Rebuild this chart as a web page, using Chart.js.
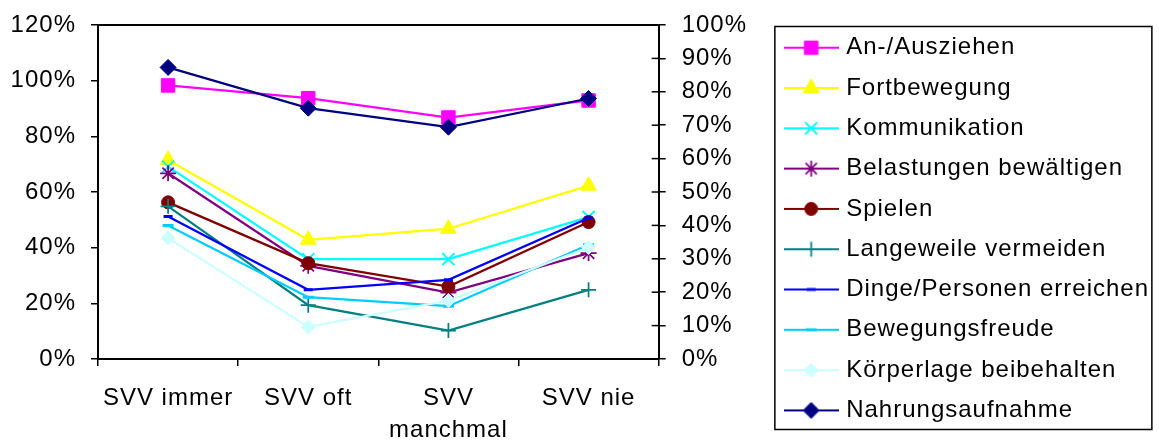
<!DOCTYPE html>
<html>
<head>
<meta charset="utf-8">
<script src="https://cdn.jsdelivr.net/npm/chart.js@4.4.1/dist/chart.umd.min.js"></script>
<style>
  html, body { margin: 0; padding: 0; background: #fff; }
  #chart { display: block; }
</style>
</head>
<body>
<canvas id="chart" width="1159" height="441"></canvas>
<script>
var categories = ['SVV immer', 'SVV oft', ['SVV', 'manchmal'], 'SVV nie']
var leftTicks = [0, 20, 40, 60, 80, 100, 120]
var rightTicks = [0, 10, 20, 30, 40, 50, 60, 70, 80, 90, 100]

// values in %, read against the right axis
var anAusziehen = [81.9, 78.1, 72.3, 77.4]
var fortbewegung = [59.6, 35.7, 39.0, 51.9]
var kommunikation = [57.6, 29.9, 29.9, 42.5]
var belastungen = [55.6, 27.9, 19.9, 31.7]
var spielen = [46.9, 28.7, 21.7, 41.0]
var langeweile = [45.7, 16.1, 8.5, 20.7]
var dingePersonen = [42.7, 20.7, 23.7, 42.2]
var bewegungsfreude = [40.0, 18.5, 15.8, 34.2]
var koerperlage = [36.2, 9.6, 17.5, 33.4]
var nahrungsaufnahme = [87.3, 75.1, 69.4, 78.0]

var seriesNames = ['An-/Ausziehen', 'Fortbewegung', 'Kommunikation', 'Belastungen bewältigen', 'Spielen',
    'Langeweile vermeiden', 'Dinge/Personen erreichen', 'Bewegungsfreude', 'Körperlage beibehalten', 'Nahrungsaufnahme']
var seriesValues = [anAusziehen, fortbewegung, kommunikation, belastungen, spielen,
    langeweile, dingePersonen, bewegungsfreude, koerperlage, nahrungsaufnahme]

var colors = ['#ff00ff', '#ffff00', '#00ffff', '#800080', '#800000', '#008080', '#0000ff', '#00ccff', '#ccffff', '#000080']
var markers = [
    { style: 'rect', radius: 9.5, border: 1 },
    { style: 'triangle', radius: 9, border: 1 },
    { style: 'crossRot', radius: 8.5, border: 2 },
    { style: 'star', radius: 8, border: 1.75 },
    { style: 'circle', radius: 6.5, border: 1 },
    { style: 'cross', radius: 7.5, border: 1.75 },
    { style: 'line', radius: 4.5, border: 3 },
    { style: 'line', radius: 5.5, border: 3 },
    { style: 'rectRot', radius: 7, border: 1 },
    { style: 'rectRot', radius: 8, border: 1 }
]

var fontFamily = "'Liberation Sans', Arial, sans-serif"
Chart.defaults.font.family = fontFamily
Chart.defaults.font.size = 24
Chart.defaults.color = '#000'

// legend symbol: a short line with the marker in the middle
function makeIcon(color, m) {
    var c = document.createElement('canvas')
    c.width = 55
    c.height = 22
    var ctx = c.getContext('2d')
    ctx.strokeStyle = color
    ctx.fillStyle = color
    ctx.lineWidth = 2
    ctx.beginPath()
    ctx.moveTo(0, 11)
    ctx.lineTo(55, 11)
    ctx.stroke()
    ctx.lineWidth = m.border
    Chart.helpers.drawPoint(ctx, { pointStyle: m.style, radius: m.radius, rotation: 0, borderWidth: m.border }, 27.5, 11)
    return c
}
var icons = colors.map(function (c, i) { return makeIcon(c, markers[i]) })

// the reference text runs a bit wide
var spacing = {
    id: 'spacing',
    beforeUpdate: function (chart) { chart.ctx.letterSpacing = '1px' },
    beforeDraw: function (chart) { chart.ctx.letterSpacing = '1px' }
}

// top edge of the plot, inner ticks of the right axis, legend frame
var frame = {
    id: 'frame',
    afterDraw: function (chart) {
        var ctx = chart.ctx
        var a = chart.chartArea
        var y2 = chart.scales.y2
        var lg = chart.legend
        ctx.save()
        ctx.strokeStyle = '#000'
        ctx.lineWidth = 2
        ctx.beginPath()
        ctx.moveTo(a.left - 1, a.top)
        ctx.lineTo(a.right + 1, a.top)
        ctx.stroke()
        ctx.lineWidth = 1.5
        y2.ticks.forEach(function (t) {
            var y = y2.getPixelForValue(t.value)
            ctx.beginPath()
            ctx.moveTo(a.right - 7, y)
            ctx.lineTo(a.right, y)
            ctx.stroke()
        })
        ctx.strokeRect(lg.left + 3, lg.top + 7.1, 377, 403)
        ctx.restore()
    }
}

var pct = function (v) { return v + '%' }

new Chart(document.getElementById('chart').getContext('2d'), {
    type: 'line',
    data: {
        labels: categories,
        datasets: seriesNames.map(function (name, i) {
            return {
                label: name,
                data: seriesValues[i],
                yAxisID: 'y2',
                borderColor: colors[i],
                backgroundColor: colors[i],
                borderWidth: 2.25,
                pointStyle: markers[i].style,
                pointRadius: markers[i].radius,
                pointHoverRadius: markers[i].radius,
                pointBorderWidth: markers[i].border,
                tension: 0,
                order: seriesNames.length - i
            }
        })
    },
    options: {
        responsive: false,
        animation: false,
        layout: { padding: { top: 19.4, left: 0, right: 0, bottom: 0 } },
        plugins: {
            tooltip: { enabled: false },
            legend: {
                position: 'right',
                align: 'start',
                maxWidth: 388.8,
                labels: {
                    usePointStyle: true,
                    pointStyleWidth: 46,
                    padding: 16.3,
                    font: { size: 24 },
                    color: '#000',
                    generateLabels: function (chart) {
                        var items = Chart.defaults.plugins.legend.labels.generateLabels(chart)
                        items.forEach(function (item) { item.pointStyle = icons[item.datasetIndex] })
                        return items
                    },
                    sort: function (a, b) { return a.datasetIndex - b.datasetIndex }
                }
            }
        },
        scales: {
            x: {
                offset: true,
                grid: { offset: true, drawOnChartArea: false, tickLength: 7, color: '#000', lineWidth: 1.5 },
                border: { color: '#000', width: 2 },
                ticks: { maxRotation: 0, autoSkip: false, padding: 16, font: { size: 24, lineHeight: 1.35 } },
                afterFit: function (s) { s.height = 82; s.paddingLeft = 0; s.paddingRight = 0 }
            },
            y: {
                position: 'left',
                min: leftTicks[0],
                max: leftTicks[leftTicks.length - 1],
                grid: { drawOnChartArea: false, tickLength: 7, color: '#000', lineWidth: 1.5 },
                border: { color: '#000', width: 2 },
                ticks: { stepSize: leftTicks[1] - leftTicks[0], padding: 15, callback: pct },
                afterFit: function (s) { s.width = 98; s.paddingTop = 25; s.paddingBottom = 0 }
            },
            y2: {
                position: 'right',
                min: rightTicks[0],
                max: rightTicks[rightTicks.length - 1],
                grid: { drawOnChartArea: false, tickLength: 7, color: '#000', lineWidth: 1.5 },
                border: { color: '#000', width: 2 },
                ticks: { stepSize: rightTicks[1] - rightTicks[0], padding: 16, callback: pct },
                afterFit: function (s) { s.width = 113.2; s.paddingTop = 25; s.paddingBottom = 0 }
            }
        }
    },
    plugins: [spacing, frame]
})
</script>
</body>
</html>
